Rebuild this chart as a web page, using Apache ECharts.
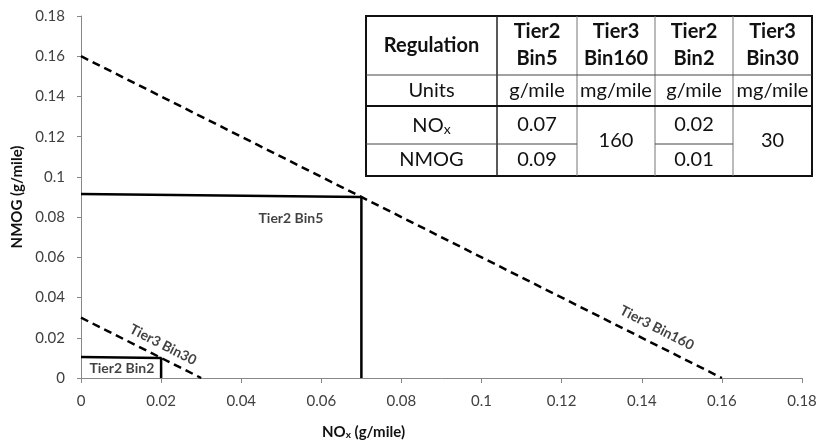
<!DOCTYPE html>
<html><head><meta charset="utf-8">
<script src="https://cdn.jsdelivr.net/npm/echarts@6/dist/echarts.min.js"></script>
<style>html,body{margin:0;padding:0;background:#fff}#c{width:820px;height:445px}</style>
</head><body><div id="c"></div>
<script>
// ---- data ----
const xTickLabels = ['0','0.02','0.04','0.06','0.08','0.1','0.12','0.14','0.16','0.18'];
const yTickLabels = ['0','0.02','0.04','0.06','0.08','0.1','0.12','0.14','0.16','0.18'];
const tier3Bin160 = [[0, 0.16], [0.16, 0]];
const tier3Bin30 = [[0, 0.03], [0.03, 0]];
const tier2Bin5 = [[0, 0.0915], [0.07, 0.09], [0.07, 0]];
const tier2Bin2 = [[0, 0.0105], [0.02, 0.01], [0.02, 0]];
const lineLabels = ['Tier2 Bin5', 'Tier2 Bin2', 'Tier3 Bin30', 'Tier3 Bin160'];
const lineLabelPos = [[0.0524, 0.0794], [0.0102, 0.0049], [0.0205, 0.0165], [0.1438, 0.0249]];
const lineLabelRot = [0, 0, -27, -27];
const tableHeaders = ['Regulation', 'Tier2\nBin5', 'Tier3\nBin160', 'Tier2\nBin2', 'Tier3\nBin30'];
const tableUnits = ['Units', 'g/mile', 'mg/mile', 'g/mile', 'mg/mile'];
const rowNames = ['NOx', 'NMOG'];
const tier2Bin5Vals = ['0.07', '0.09'];
const tier3Bin160Val = '160';
const tier2Bin2Vals = ['0.02', '0.01'];
const tier3Bin30Val = '30';

// ---- layout ----
const FONT = 'Lato, "Open Sans", sans-serif';
const colX = [366, 497, 577, 655, 733, 812];
const rowY = [16, 75, 106, 144, 176];
const chart = echarts.init(document.getElementById('c'), null, {renderer: 'canvas'});

const g = [];
const tfs = 20;
function cellText(text, c0, c1, r0, r1, bold, rich) {
  const st = {
    text: text, x: (colX[c0] + colX[c1]) / 2, y: (rowY[r0] + rowY[r1]) / 2,
    align: 'center', verticalAlign: 'middle',
    font: (bold ? 'bold ' : '') + tfs + 'px ' + FONT, fill: '#111', lineHeight: 27
  };
  if (rich) st.rich = rich;
  g.push({type: 'text', z: 10, style: st});
}
function hline(x1, x2, y, w, col) {
  g.push({type: 'line', z: 9, shape: {x1: x1, y1: y, x2: x2, y2: y}, style: {stroke: col, lineWidth: w}});
}
function vline(x, y1, y2, w, col) {
  g.push({type: 'line', z: 9, shape: {x1: x, y1: y1, x2: x, y2: y2}, style: {stroke: col, lineWidth: w}});
}
g.push({type: 'rect', z: 8, shape: {x: colX[0], y: rowY[0], width: colX[5] - colX[0], height: rowY[4] - rowY[0]}, style: {fill: '#fff', stroke: '#111', lineWidth: 2}});
for (let i = 2; i < 5; i++) vline(colX[i], rowY[0], rowY[4], 1, '#777');
vline(colX[1], rowY[0], rowY[4], 1.5, '#222');
hline(colX[0], colX[5], rowY[1], 1, '#444');
hline(colX[0], colX[5], rowY[2], 2, '#111');
hline(colX[0], colX[2], rowY[3], 1, '#444');
hline(colX[3], colX[4], rowY[3], 1, '#444');
for (let i = 0; i < 5; i++) cellText(tableHeaders[i], i, i + 1, 0, 1, true);
for (let i = 0; i < 5; i++) cellText(tableUnits[i], i, i + 1, 1, 2, false);
const subRich = {
  a: {font: tfs + 'px ' + FONT, fill: '#111', verticalAlign: 'bottom', lineHeight: 22},
  s: {font: '14px ' + FONT, fill: '#111', verticalAlign: 'bottom', lineHeight: 12}
};
cellText('{a|NO}{s|x}', 0, 1, 2, 3, false, subRich);
cellText(rowNames[1], 0, 1, 3, 4, false);
cellText(tier2Bin5Vals[0], 1, 2, 2, 3, false);
cellText(tier2Bin5Vals[1], 1, 2, 3, 4, false);
cellText(tier3Bin160Val, 2, 3, 2, 4, false);
cellText(tier2Bin2Vals[0], 3, 4, 2, 3, false);
cellText(tier2Bin2Vals[1], 3, 4, 3, 4, false);
cellText(tier3Bin30Val, 4, 5, 2, 4, false);

const dashed = {color: '#000', width: 2.5, type: [8, 5]};
const solid = {color: '#000', width: 2.5, type: 'solid'};
const lineSeries = (name, data, ls) => ({
  name: name, type: 'line', data: data, symbol: 'none', lineStyle: ls, z: 3, animation: false
});

chart.setOption({
  animation: false,
  backgroundColor: '#fff',
  grid: {left: 81, right: 18, top: 16, bottom: 64},
  xAxis: {
    type: 'value', min: 0, max: 0.18, interval: 0.02,
    name: '{b|NO}{s|x}{b| (g/mile)}', nameLocation: 'middle', nameGap: 44,
    nameTextStyle: {padding: [0, 156, 0, 0], rich: {
      b: {fontFamily: FONT, fontWeight: 'bold', fontSize: 15, color: '#111', verticalAlign: 'bottom', lineHeight: 18},
      s: {fontFamily: FONT, fontWeight: 'bold', fontSize: 10, color: '#111', verticalAlign: 'bottom', lineHeight: 12}
    }},
    axisLine: {lineStyle: {color: '#888', width: 1}},
    axisTick: {show: true, length: 5, lineStyle: {color: '#888'}},
    splitLine: {show: false},
    axisLabel: {color: '#404040', fontSize: 15, fontFamily: FONT, margin: 16,
      formatter: v => xTickLabels[Math.round(v / 0.02)]}
  },
  yAxis: {
    type: 'value', min: 0, max: 0.18, interval: 0.02,
    name: 'NMOG (g/mile)', nameLocation: 'middle', nameRotate: 90, nameGap: 54,
    nameTextStyle: {fontFamily: FONT, fontWeight: 'bold', fontSize: 15, color: '#111'},
    axisLine: {show: true, lineStyle: {color: '#888', width: 1}},
    axisTick: {show: true, length: 4, lineStyle: {color: '#888'}},
    splitLine: {show: false},
    axisLabel: {color: '#404040', fontSize: 15, fontFamily: FONT, margin: 16,
      formatter: v => yTickLabels[Math.round(v / 0.02)]}
  },
  series: [
    lineSeries('Tier3 Bin160', tier3Bin160, dashed),
    lineSeries('Tier3 Bin30', tier3Bin30, dashed),
    lineSeries('Tier2 Bin5', tier2Bin5, solid),
    lineSeries('Tier2 Bin2', tier2Bin2, solid),
    {
      type: 'scatter', symbolSize: 0, z: 5, animation: false,
      data: lineLabels.map((n, i) => ({
        name: n, value: lineLabelPos[i],
        label: {rotate: lineLabelRot[i]}
      })),
      label: {show: true, position: 'inside', formatter: '{b}', color: '#111',
        fontFamily: FONT, fontWeight: 'bold', fontSize: 14}
    }
  ],
  graphic: g
});
</script></body></html>
